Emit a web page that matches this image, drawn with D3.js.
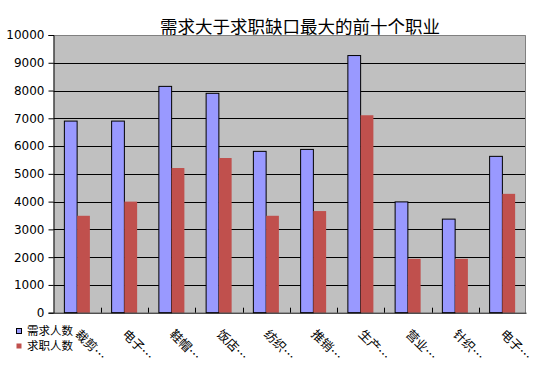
<!DOCTYPE html>
<html><head><meta charset="utf-8">
<script src="https://cdn.jsdelivr.net/npm/d3@7"></script>
<style>body{margin:0;background:#fff}svg{display:block}</style>
</head><body><svg id="c" width="553" height="384"></svg>
<script>
const title = "需求大于求职缺口最大的前十个职业";
const categories = ["裁剪…","电子…","鞋帽…","饭店…","纺织…","推销…","生产…","营业…","针织…","电子…"];
const seriesNames = ["需求人数","求职人数"];
const demand = [6900, 6900, 8150, 7900, 5810, 5880, 9260, 3990, 3370, 5630];
const seekers = [3490, 4000, 5210, 5570, 3490, 3660, 7110, 1940, 1940, 4280];
const yTicks = [0,1000,2000,3000,4000,5000,6000,7000,8000,9000,10000];

const svg = d3.select("#c");
const L = 53.5, R = 526, T = 35, B = 312.7;
const x = d3.scaleBand().domain(d3.range(categories.length)).range([L, R]).paddingInner(0).paddingOuter(0);
const y = d3.scaleLinear().domain([0, 10000]).range([B, T]);
const bw = x.bandwidth();
const barW = bw * 0.27;
const off = (bw - 2 * barW) / 2;

// plot background
svg.append("rect").attr("x", L).attr("y", T).attr("width", R - L).attr("height", B - T).attr("fill", "#c0c0c0");
// gridlines
svg.append("g").selectAll("line").data(yTicks.filter(d => d > 0 && d < 10000)).join("line")
  .attr("x1", L).attr("x2", R).attr("y1", d => Math.round(y(d)) + 0.5).attr("y2", d => Math.round(y(d)) + 0.5)
  .attr("stroke", "#000").attr("stroke-width", 1);
// border top/right
svg.append("path").attr("d", `M${L},${T + 0.5}H${R - 0.5}V${B}`).attr("fill", "none").attr("stroke", "#808080");

// bars
const g = svg.append("g");
g.selectAll("rect.d").data(demand).join("rect").attr("class", "d")
  .attr("x", (d, i) => x(i) + off).attr("y", d => y(d)).attr("width", barW).attr("height", d => B - y(d))
  .attr("fill", "#9999ff").attr("stroke", "#000").attr("stroke-width", 1);
g.selectAll("rect.s").data(seekers).join("rect").attr("class", "s")
  .attr("x", (d, i) => x(i) + off + barW).attr("y", d => y(d)).attr("width", barW).attr("height", d => B - y(d))
  .attr("fill", "#c0504d");

// y axis
const yAxis = d3.axisLeft(y).tickValues(yTicks).tickSize(5).tickPadding(4).tickFormat(d3.format("d"));
const ya = svg.append("g").attr("transform", `translate(${L},0)`).call(yAxis);
ya.select(".domain").attr("stroke", "#000");
ya.selectAll("text").attr("font-family", "DejaVu Sans, Verdana, sans-serif").attr("font-size", 12).attr("fill", "#000");

// x axis
const xAxis = d3.axisBottom(x).tickSize(0).tickFormat("");
const xa = svg.append("g").attr("transform", `translate(0,${B})`).call(xAxis);
xa.select(".domain").attr("stroke", "#000");
xa.selectAll(".tick").remove();
xa.selectAll("line.tk").data(d3.range(1, categories.length)).join("line").attr("class", "tk")
  .attr("x1", i => Math.round(x(i)) + 0.5).attr("x2", i => Math.round(x(i)) + 0.5).attr("y1", 0).attr("y2", -5).attr("stroke", "#000");

// x labels
svg.append("g").selectAll("text").data(categories).join("text")
  .attr("transform", (d, i) => `translate(${x(i) + bw / 2 - 3},${335}) rotate(45)`)
  .attr("font-family", "Noto Sans CJK SC, sans-serif").attr("font-size", 12.5).attr("fill", "#000")
  .text(d => d);

// title
svg.append("text").attr("x", 300).attr("y", 33).attr("text-anchor", "middle")
  .attr("font-family", "Noto Sans CJK SC, sans-serif").attr("font-size", 17.5).attr("fill", "#000").text(title);

// legend
const lg = svg.append("g");
const colors = ["#9999ff", "#c0504d"];
seriesNames.forEach((n, i) => {
  const yy = 328 + i * 15;
  lg.append("rect").attr("x", 16.5).attr("y", yy + 0.5).attr("width", 5).attr("height", 5)
    .attr("fill", colors[i]).attr("stroke", i === 0 ? "#000" : "none");
  lg.append("text").attr("x", 27).attr("y", yy + 3).attr("dy", "0.35em")
    .attr("font-family", "Noto Sans CJK SC, sans-serif").attr("font-size", 11.5).attr("fill", "#000").text(n);
});
</script></body></html>
